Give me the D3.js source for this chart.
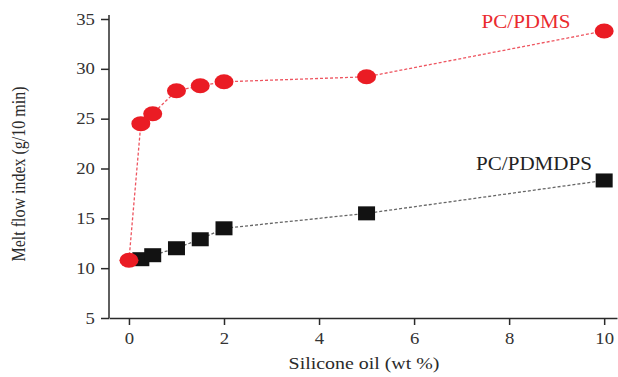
<!DOCTYPE html>
<html lang="en">
<head>
<meta charset="UTF-8">
<title>Melt flow index</title>
<script src="https://d3js.org/d3.v7.min.js"></script>
<style>
    body { margin: 0; padding: 0; background: #fff; }
    svg { display: block; }
    .axis path, .axis line { stroke: #2a2a2a; stroke-width: 1.5px; }
</style>
</head>
<body>
<div id="chart"></div>
<script>
    // data
    const oilPdms = [0, 0.25, 0.5, 1, 1.5, 2, 5, 10];
    const mfiPdms = [10.8, 24.5, 25.5, 27.8, 28.3, 28.7, 29.2, 33.8];
    const oilPdmdps = [0.25, 0.5, 1, 1.5, 2, 5, 10];
    const mfiPdmdps = [10.9, 11.3, 12.0, 12.9, 14.0, 15.5, 18.8];
    const xTicks = [0, 2, 4, 6, 8, 10];
    const yTicks = [5, 10, 15, 20, 25, 30, 35];

    const width = 618, height = 377;
    const stretch = 1.17; // the original picture is a bit wider than tall
    const serif = "Liberation Serif";

    const svg = d3.select("#chart").append("svg")
        .attr("width", width)
        .attr("height", height)
        .attr("font-family", serif);

    const x = d3.scaleLinear().domain([-0.42, 10.27]).range([109, 617]);
    const y = d3.scaleLinear().domain([5, 35]).range([318, 19]);

    const gx = svg.append("g").attr("class", "axis")
        .attr("transform", `translate(0,${y(5)})`);
    // minor ticks first
    gx.call(d3.axisBottom(x).tickValues([1, 3, 5, 7, 9]).tickSize(4).tickFormat(""));
    gx.call(d3.axisBottom(x).tickValues(xTicks).tickSize(7).tickSizeOuter(0).tickPadding(8).tickFormat(d3.format("d")));
    gx.attr("font-family", serif).attr("font-size", 16);
    gx.selectAll("text").attr("transform", `scale(${stretch},1)`).attr("fill", "#333");

    const gy = svg.append("g").attr("class", "axis")
        .attr("transform", `translate(${x.range()[0]},0)`);
    gy.call(d3.axisLeft(y).tickValues([7.5, 12.5, 17.5, 22.5, 27.5, 32.5]).tickSize(4).tickFormat(""));
    gy.call(d3.axisLeft(y).tickValues(yTicks).tickSize(8).tickSizeOuter(0).tickPadding(4).tickFormat(d3.format("d")));
    gy.attr("font-family", serif).attr("font-size", 16);
    gy.selectAll("text").attr("transform", `scale(${stretch},1)`).attr("fill", "#333");
    gy.selectAll("path.domain").attr("d", `M0,${y(5)}V15`);

    const line = d3.line().x(d => x(d[0])).y(d => y(d[1]));
    const pdms = oilPdms.map((v, i) => [v, mfiPdms[i]]);
    const pdmdps = oilPdmdps.map((v, i) => [v, mfiPdmdps[i]]);

    svg.append("path")
        .datum(pdmdps)
        .attr("d", line)
        .attr("fill", "none")
        .attr("stroke", "#666")
        .attr("stroke-width", 1.3)
        .attr("stroke-dasharray", "3,2");

    svg.append("path")
        .datum(pdms)
        .attr("d", line)
        .attr("fill", "none")
        .attr("stroke", "#ee5560")
        .attr("stroke-width", 1.3)
        .attr("stroke-dasharray", "3,2");

    svg.selectAll(".sq")
        .data(pdmdps)
        .enter().append("rect")
        .attr("class", "sq")
        .attr("x", d => x(d[0]) - 8.5)
        .attr("y", d => y(d[1]) - 7)
        .attr("width", 17)
        .attr("height", 14)
        .attr("fill", "#121212");

    svg.selectAll(".dot")
        .data(pdms)
        .enter().append("ellipse")
        .attr("class", "dot")
        .attr("cx", d => x(d[0]))
        .attr("cy", d => y(d[1]))
        .attr("rx", 9.5)
        .attr("ry", 7.5)
        .attr("fill", "#ea1c24");

    function label(txt, px, py, size, color, rotate) {
        const g = svg.append("g")
            .attr("transform", `translate(${px},${py})` + (rotate ? " rotate(-90)" : ""));
        g.append("text")
            .attr("transform", rotate ? `scale(1,${stretch})` : `scale(${stretch},1)`)
            .attr("text-anchor", "middle")
            .attr("font-size", size)
            .attr("fill", color)
            .text(txt);
    }

    label("PC/PDMS", 526, 28, 18, "#ea2a2e");
    label("PC/PDMDPS", 534, 170, 18, "#222");
    label("Silicone oil (wt %)", 364, 369, 17, "#2a2a2a");
    label("Melt flow index (g/10 min)", 25, 174, 16, "#2a2a2a", true);
</script>
</body>
</html>
